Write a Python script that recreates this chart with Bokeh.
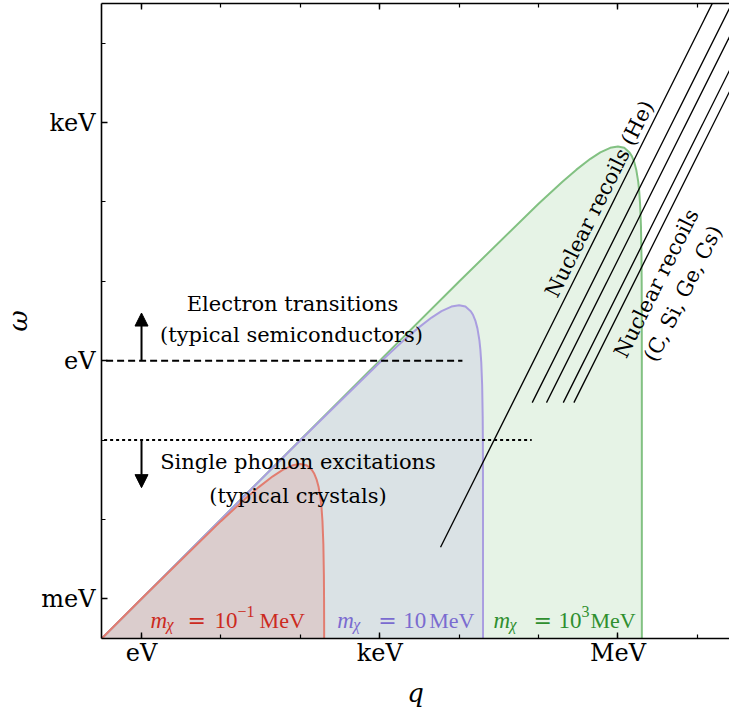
import math
from bokeh.plotting import figure
from bokeh.models import Range1d, LogAxis, FixedTicker, Arrow, NormalHead
from bokeh.core.properties import value
from bokeh.embed import file_html
from bokeh.resources import INLINE

# ---------------- data (all energies / momenta in eV) ----------------
# kinematic boundaries
q_red = [0.1, 1, 10, 20, 30, 45, 60, 80, 100, 120, 140, 150, 160, 170, 180, 185, 190, 195, 198, 199, 199.5, 199.9]
w_red = [1e-4, 1e-3, 0.0095, 0.018, 0.0255, 0.0349, 0.042, 0.048, 0.05, 0.048, 0.042, 0.0375, 0.032, 0.0255, 0.018, 0.0139, 0.0095, 0.0049, 0.002, 0.001, 0.0005, 1e-4]

q_blue = [0.1, 1, 10, 100, 1000, 2000, 3000, 4500, 6000, 8000, 10000, 12000, 14000, 15000, 16000, 17000, 18000, 18500, 19000, 19500, 19800, 19900, 19950, 19990, 19999, 20000]
w_blue = [1e-4, 1e-3, 0.01, 0.0995, 0.95, 1.8, 2.55, 3.49, 4.2, 4.8, 5.0, 4.8, 4.2, 3.75, 3.2, 2.55, 1.8, 1.39, 0.95, 0.49, 0.198, 0.099, 0.05, 0.01, 0.001, 1e-4]

q_green = [0.1, 1, 10, 100, 1e3, 1e4, 1e5, 2e5, 3e5, 4.5e5, 6e5, 8e5, 1e6, 1.2e6, 1.4e6, 1.5e6, 1.6e6, 1.7e6, 1.8e6, 1.85e6, 1.9e6, 1.95e6, 1.98e6, 1.99e6, 1.995e6, 1.999e6, 1.9999e6, 2e6]
w_green = [1e-4, 1e-3, 0.01, 0.1, 1.0, 9.95, 95, 180, 255, 349, 420, 480, 500, 480, 420, 375, 320, 255, 180, 139, 95, 49, 19.8, 9.9, 5.0, 1.0, 0.1, 1e-4]

# nuclear recoil lines (He, C, Si, Ge, Cs)
nr_q_start = [5.83e3, 8.33e4, 1.26e5, 2.05e5, 2.79e5]
nr_w_start = [4.45e-3, 0.296, 0.296, 0.296, 0.296]
nr_q_end = [3e7, 3e7, 3e7, 3e7, 3e7]
nr_w_end = [1.2e5, 3.84e4, 1.68e4, 6.34e3, 3.42e3]

# thresholds
thr_w = [1.0, 0.1]          # electron gap, phonon
thr_q_end = [1.1e4, 8.2e4]

# ticks
x_major = [1, 1000, 1000000]
x_minor = [0.1, 1, 10, 100, 1000, 10000, 100000, 1000000, 10000000]
x_labels = {1: "eV", 1000: "keV", 1000000: "MeV"}
y_major = [0.001, 1, 1000]
y_minor = [0.001, 0.01, 0.1, 1, 10, 100, 1000, 10000]
y_labels = {0.001: "meV", 1: "eV", 1000: "keV"}

SERIF = value("DejaVu Serif")
MATH = value("Liberation Serif")

p = figure(x_axis_type="log", y_axis_type="log",
           x_range=Range1d(10 ** -0.504, 10 ** 7.405),
           y_range=Range1d(10 ** -3.501, 10 ** 4.5),
           frame_width=628, frame_height=635,
           min_border_left=93, min_border_right=0, min_border_top=3, min_border_bottom=0,
           output_backend="svg", toolbar_location=None)
p.outline_line_color = None
p.xgrid.visible = False
p.ygrid.visible = False
p.background_fill_color = "white"
p.border_fill_color = "white"

def style_axis(ax, ticks, minor, labels):
    ax.ticker = FixedTicker(ticks=ticks, minor_ticks=minor)
    ax.major_label_overrides = labels
    ax.major_tick_in = 6
    ax.major_tick_out = 0
    ax.minor_tick_in = 4
    ax.minor_tick_out = 0
    ax.axis_line_width = 1.6
    ax.major_tick_line_width = 1.4
    ax.minor_tick_line_width = 1.2
    ax.major_label_text_font = "DejaVu Serif"
    ax.major_label_text_font_size = "24px"
    ax.major_label_text_color = "black"
    ax.axis_label_text_font = "DejaVu Serif"
    ax.axis_label_text_font_style = "italic"
    ax.axis_label_text_font_size = "26px"
    ax.axis_label_text_color = "black"

xa = p.xaxis[0]
style_axis(xa, x_major, x_minor, x_labels)
xa.axis_label = "q"
xa.major_label_standoff = 0
xa.axis_label_standoff = 8

ya = p.yaxis[0]
style_axis(ya, y_major, y_minor, y_labels)
ya.axis_label = "ω"
ya.major_label_standoff = 6
ya.axis_label_standoff = 5

top = LogAxis()
style_axis(top, x_major, x_minor, {})
top.major_label_text_font_size = "1px"
top.major_label_text_alpha = 0
top.major_label_standoff = 0
p.add_layout(top, "above")

# ---------------- regions ----------------
regions = [
    (q_green, w_green, "#82c182"),
    (q_blue, w_blue, "#aa9ee0"),
    (q_red, w_red, "#e27d70"),
]
for qs, ws, col in regions:
    p.patch(qs, ws, fill_color=col, fill_alpha=0.2, line_color=None)
    p.line(qs, ws, line_color=col, line_width=2)

# thresholds
p.segment(x0=[0.1], y0=[thr_w[0]], x1=[thr_q_end[0]], y1=[thr_w[0]],
          line_color="black", line_width=2, line_dash="7 4")
p.segment(x0=[0.1], y0=[thr_w[1]], x1=[thr_q_end[1]], y1=[thr_w[1]],
          line_color="black", line_width=2, line_dash="3 3")

# arrows
p.add_layout(Arrow(end=NormalHead(size=13, fill_color="black", line_color="black"),
                   x_start=1, y_start=thr_w[0], x_end=1, y_end=3.98,
                   line_width=2, line_color="black"))
p.add_layout(Arrow(end=NormalHead(size=13, fill_color="black", line_color="black"),
                   x_start=1, y_start=thr_w[1], x_end=1, y_end=0.0251,
                   line_width=2, line_color="black"))

# nuclear recoils
p.segment(x0=nr_q_start, y0=nr_w_start, x1=nr_q_end, y1=nr_w_end,
          line_color="black", line_width=1.3)

# ---------------- annotations ----------------
def txt(x, y, s, size="21px", angle=0.0, color="black", align="center",
        baseline="middle", style="normal", xo=0, yo=0, font=SERIF):
    p.text(x=[x], y=[y], text=[s], angle=angle, text_font=font,
           text_font_size=size, text_color=color, text_align=align,
           text_baseline=baseline, text_font_style=style,
           x_offset=xo, y_offset=yo)

txt(79.8, 5.22, "Electron transitions")
txt(77.5, 2.08, "(typical semiconductors)")
txt(93.5, 0.0528, "Single phonon excitations")
txt(93.5, 0.0195, "(typical crystals)")

ang = math.atan(2.0)
txt(5.86e5, 109, "Nuclear recoils (He)", angle=ang)
txt(3.06e6, 9.41, "Nuclear recoils", angle=ang)
txt(6.6e6, 7.0, "(C, Si, Ge, Cs)", angle=ang)

# mass labels
base_y = 5.28e-4
def mass_label(x, color, eq_off, ten_off, exp_txt, exp_off, mev_off):
    common = dict(color=color, align="left", baseline="alphabetic")
    txt(x, base_y, "m", size="23px", style="italic", font=MATH, **common)
    txt(x, base_y, "χ", size="16px", style="italic", xo=16, yo=4, font=MATH, **common)
    txt(x, base_y, "=", size="22px", xo=eq_off, font=SERIF, **common)
    txt(x, base_y, "10", size="23px", xo=ten_off, font=MATH, **common)
    if exp_txt:
        txt(x, base_y, exp_txt, size="16px", xo=exp_off, yo=-9, font=MATH, **common)
    txt(x, base_y, "MeV", size="22px", xo=mev_off, font=MATH, **common)

mass_label(1.30, "#cc2a1e", 37, 64, "−1", 87, 109)
mass_label(291.6, "#7a6bd0", 41, 66, "", 0, 92)
mass_label(2.71e4, "#2f8f2f", 40, 65, "3", 88, 97)

open("out.html", "w").write(file_html(p, INLINE))
